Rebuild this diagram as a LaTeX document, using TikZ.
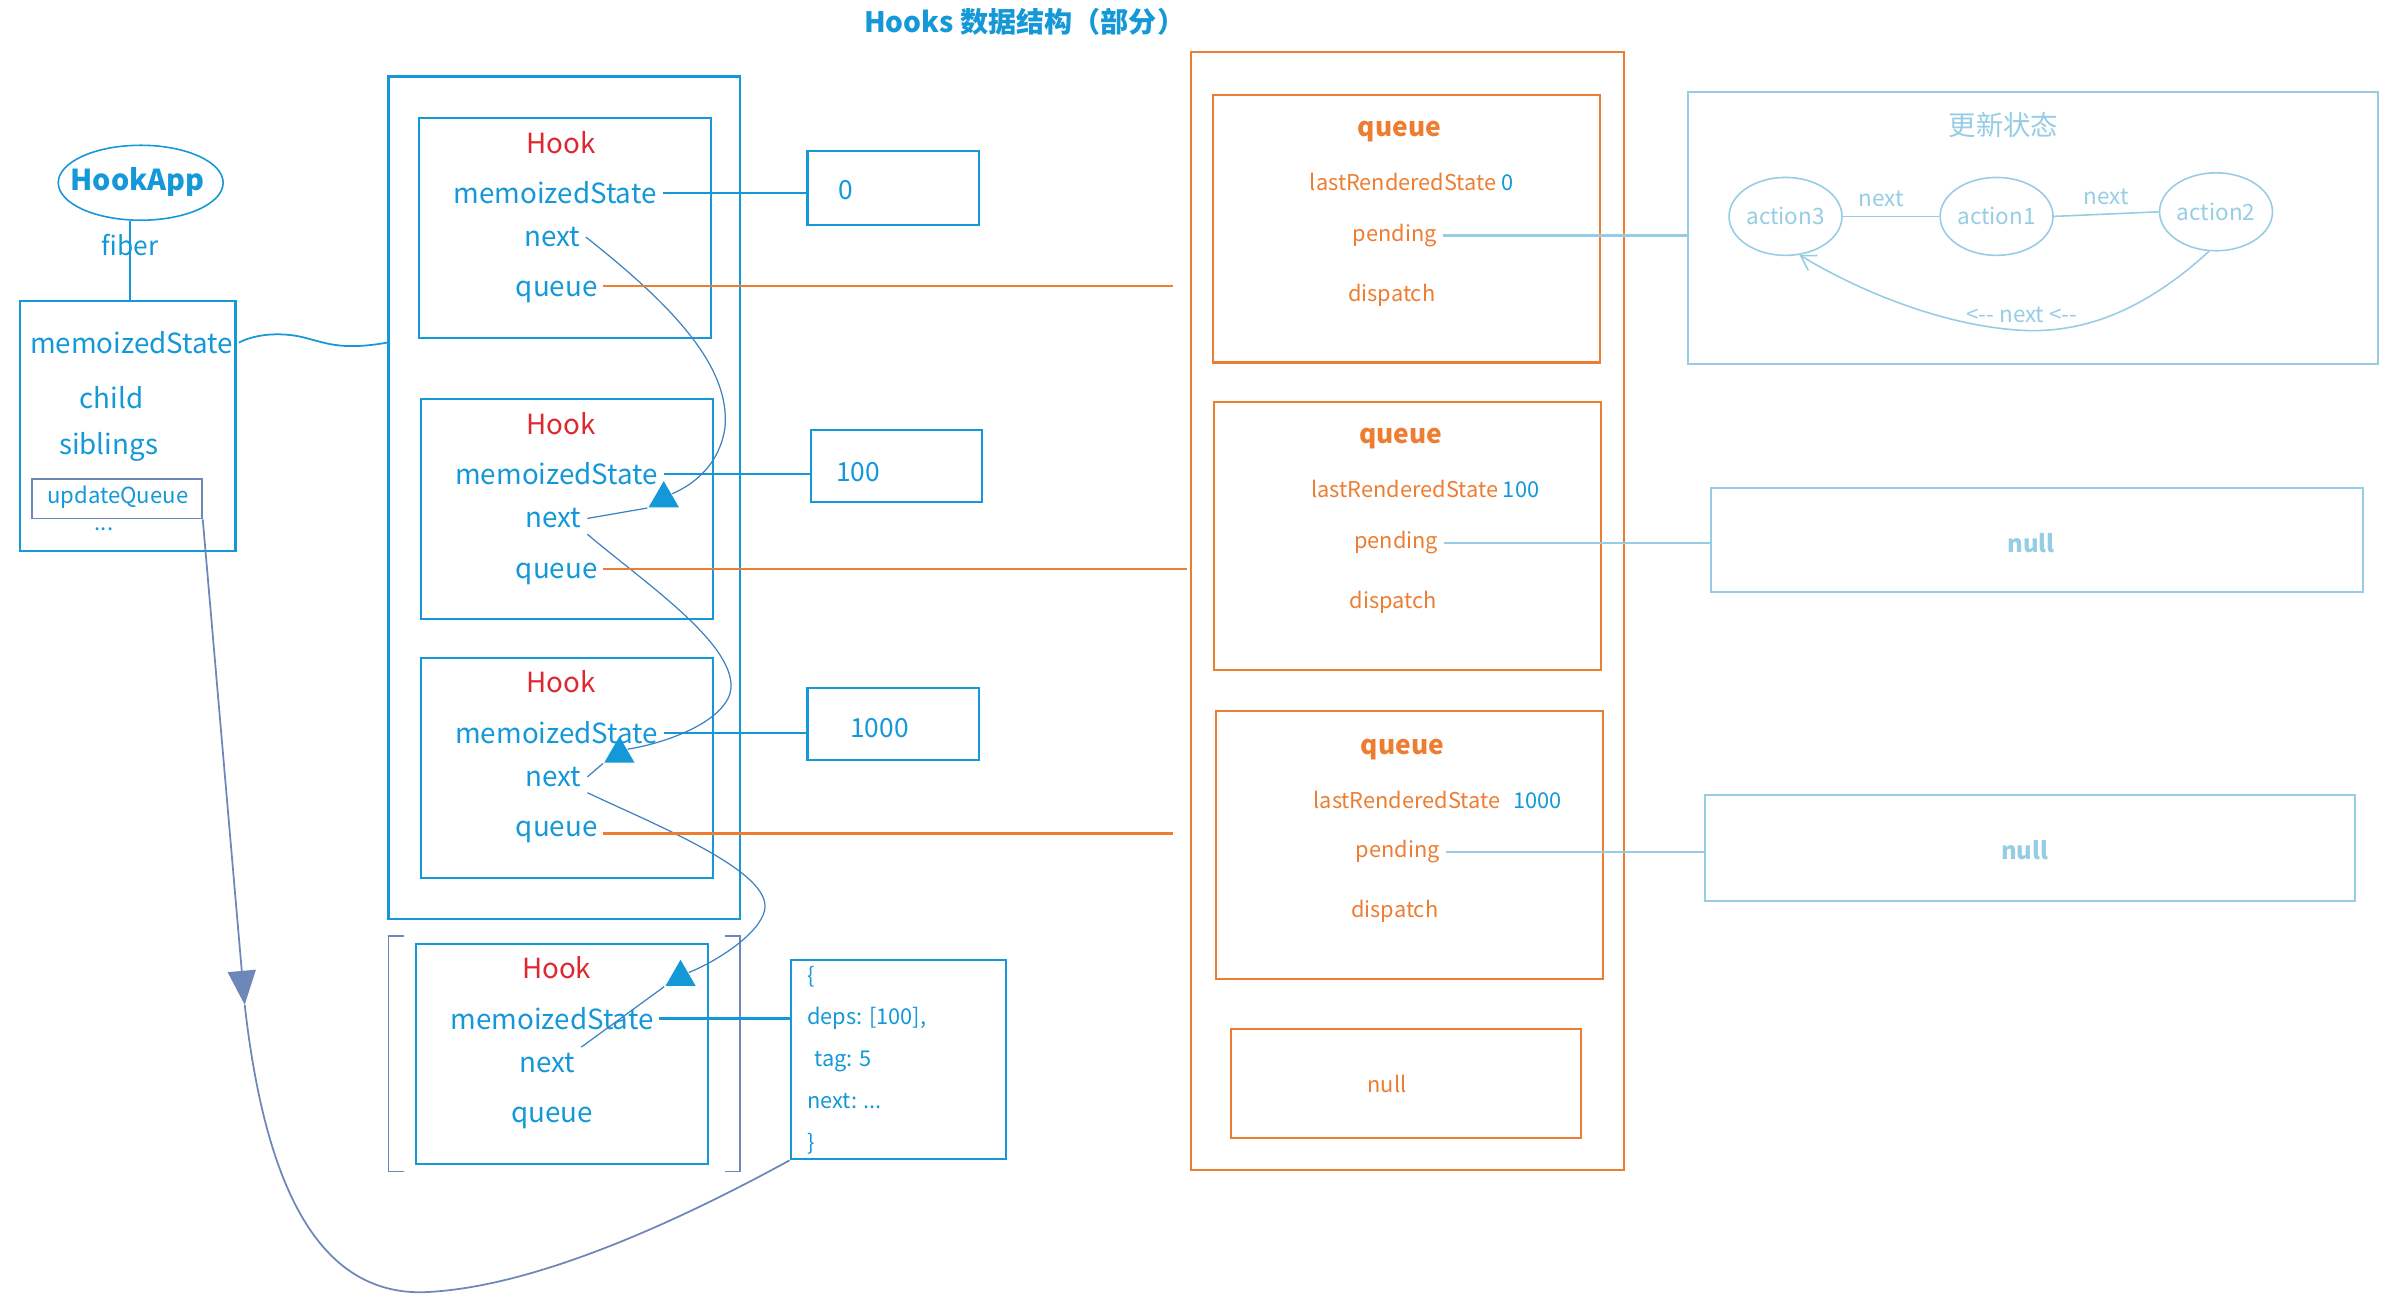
\documentclass[tikz,border=0pt]{standalone}
\usepackage{fontspec}
\setmainfont{Noto Sans CJK SC}
\usetikzlibrary{shapes.geometric,fit,arrows.meta}
\definecolor{hookblue}{RGB}{20,152,215}
\definecolor{hookred}{RGB}{222,40,48}
\definecolor{qorange}{RGB}{237,125,49}
\definecolor{lightblue}{RGB}{150,205,228}
\definecolor{greyblue}{RGB}{110,135,185}
\definecolor{nextblue}{RGB}{60,130,195}
\begin{document}
\begin{tikzpicture}[x=0.015306cm, y=-0.015306cm,
    box/.style={draw=hookblue, line width=0.6pt, inner sep=0pt},
    qbox/.style={draw=qorange, line width=0.6pt, inner sep=0pt},
    ubox/.style={draw=lightblue, line width=0.6pt, inner sep=0pt},
    fld/.style={text=hookblue, inner sep=1.5pt, font=\fontsize{7.9}{9.5}\selectfont},
    hname/.style={fld, text=hookred},
    small/.style={text=hookblue, inner sep=1.5pt, font=\fontsize{6.3}{7.6}\selectfont},
    qfld/.style={text=qorange, inner sep=1.5pt, font=\fontsize{6.2}{7.5}\selectfont},
    qhead/.style={text=qorange, inner sep=1.5pt, font=\fontsize{7.5}{9}\selectfont\bfseries},
    ufld/.style={text=lightblue, inner sep=1.5pt, font=\fontsize{6.4}{7.7}\selectfont},
    link/.style={draw=hookblue, line width=0.6pt},
    qlink/.style={draw=qorange, line width=0.6pt},
    ulink/.style={draw=lightblue, line width=0.6pt},
    nextln/.style={draw=nextblue, line width=0.35pt},
    tri/.style={regular polygon, regular polygon sides=3, fill=hookblue, minimum size=0.35cm, inner sep=0pt},
    act/.style={ellipse, draw=lightblue, line width=0.45pt, minimum width=1.13cm, minimum height=0.78cm, inner sep=0pt}]
  \useasboundingbox (0,0) rectangle (1568,855);

  \node[text=hookblue, font=\fontsize{8}{10}\selectfont\bfseries] (title) at (670,14) {Hooks 数据结构（部分）};

  % fiber
  \node[ellipse, draw=hookblue, line width=0.45pt, minimum width=1.65cm, minimum height=0.75cm, inner sep=0pt] (app) at (92,119.5) {};
  \node[text=hookblue, inner sep=0pt, font=\fontsize{8.2}{10}\selectfont\bfseries] (appt) at (90,119) {HookApp};
  \node[fld, font=\fontsize{7.5}{9}\selectfont] (fib) at (85,160) {fiber};
  \node[box, fit={(13,197) (154,360)}] (fbox) {};
  \node[fld] (fms) at (86,224) {memoizedState};
  \node[fld] (child) at (73,260) {child};
  \node[fld] (sib) at (71,292) {siblings};
  \node[draw=greyblue, line width=0.5pt, inner sep=0pt, fit={(21,313) (132,339)}] (uq) {};
  \node[small] (uqt) at (77,325) {updateQueue};
  \node[small, inner sep=0pt] (dots) at (68,346) {...};
  \draw[link] (app.south -| fib) -- (fbox.north -| fib);

  % hooks
  \node[box, fit={(254,50) (484,601)}] (hooks) {};
  \node[box, fit={(274,77) (465,221)}] (h1) {};
  \node[hname] (hk1) at (367,93) {Hook};
  \node[fld] (ms1) at (363,126) {memoizedState};
  \node[fld] (nx1) at (361,155) {next};
  \node[fld] (q1) at (364,191) {queue};
  \node[box, fit={(275,261) (466,405)}] (h2) {};
  \node[hname] (hk2) at (367,277) {Hook};
  \node[fld] (ms2) at (364,310) {memoizedState};
  \node[fld] (nx2) at (362,339) {next};
  \node[fld] (q2) at (364,375) {queue};
  \node[box, fit={(275,430) (466,574)}] (h3) {};
  \node[hname] (hk3) at (367,446) {Hook};
  \node[fld] (ms3) at (364,479) {memoizedState};
  \node[fld] (nx3) at (362,508) {next};
  \node[fld] (q3) at (364,544) {queue};
  \node[box, fit={(272,617) (463,761)}] (h4) {};
  \node[hname] (hk4) at (364,633) {Hook};
  \node[fld] (ms4) at (361,666) {memoizedState};
  \node[fld] (nx4) at (358,695) {next};
  \node[fld] (q4) at (361,731) {queue};
  \draw[greyblue, line width=0.5pt] (264,612) -- (254,612) -- (254,766) -- (264,766);
  \draw[greyblue, line width=0.5pt] (474,612) -- (484,612) -- (484,766) -- (474,766);

  % values
  \node[box, fit={(528,99) (640,147)}] (v0) {};
  \node[fld, font=\fontsize{7.5}{9}\selectfont] (v0t) at (553,124) {0};
  \node[box, fit={(530,281) (642,328)}] (v1) {};
  \node[fld, font=\fontsize{7.5}{9}\selectfont] (v1t) at (561,309) {100};
  \node[box, fit={(528,450) (640,497)}] (v2) {};
  \node[fld, font=\fontsize{7.5}{9}\selectfont] (v2t) at (575,476) {1000};
  \node[box, fit={(517,628) (658,758)}] (deps) {};
  \node[small, anchor=west, align=left, font=\fontsize{6.2}{11.9}\selectfont] (depst) at (524,693)
    {\{\\deps: [100],\\\hspace{2pt}tag: 5\\next: ...\\\}};

  \draw[link] (ms1.east) -- (ms1.east -| v0.west);
  \draw[link] (ms2.east) -- (ms2.east -| v1.west);
  \draw[link] (ms3.east) -- (ms3.east -| v2.west);
  \draw[link] (ms4.east) -- (ms4.east -| deps.west);
  \draw[link, line width=0.5pt] (fms.east) .. controls (168,218) and (185,217) .. (200,221)
    .. controls (215,225) and (225,229) .. (hooks.west |- fms.east);

  % next chain
  \node[tri] (tr2) at (434,326) {};
  \node[tri] (tr3) at (405,493) {};
  \node[tri] (tr4) at (445,639) {};
  \draw[nextln] (nx1.east) .. controls (440,200) and (478,240) .. (474,280)
    .. controls (471,300) and (458,315) .. (tr2.side 3);
  \draw[nextln] (nx2.east) -- (tr2.corner 2);
  \draw[nextln] (nx2.south east) .. controls (420,380) and (480,420) .. (478,450)
    .. controls (476,470) and (440,485) .. (tr3.side 3);
  \draw[nextln] (nx3.east) -- (tr3.corner 2);
  \draw[nextln] (nx3.south east) .. controls (430,540) and (505,570) .. (500,595)
    .. controls (497,610) and (470,628) .. (tr4.side 3);
  \draw[nextln] (tr4.corner 2) -- (nx4.north east);

  % updateQueue
  \coordinate (uqtip) at (160,657);
  \draw[greyblue, line width=0.5pt, -{Triangle[width=0.28cm,length=0.34cm]}] (uq.south east) -- (uqtip);
  \draw[greyblue, line width=0.5pt] (uqtip) .. controls (175,790) and (215,845) .. (275,845)
    .. controls (350,843) and (450,795) .. (deps.south west);

  % queues
  \node[qbox, fit={(779,34) (1062,765)}] (qcol) {};
  \node[qbox, fit={(793,62) (1046,237)}] (qb1) {};
  \node[qhead] (qh1) at (915,86) {queue};
  \node[qfld] (lrs1) at (923,119) {lastRenderedState \textcolor{hookblue}{0}};
  \node[qfld] (pd1) at (912,154) {pending};
  \node[qfld] (dp1) at (910,193) {dispatch};
  \node[qbox, fit={(794,263) (1047,438)}] (qb2) {};
  \node[qhead] (qh2) at (916,287) {queue};
  \node[qfld] (lrs2) at (932,320) {lastRenderedState \textcolor{hookblue}{100}};
  \node[qfld] (pd2) at (913,355) {pending};
  \node[qfld] (dp2) at (911,394) {dispatch};
  \node[qbox, fit={(795,465) (1048,640)}] (qb3) {};
  \node[qhead] (qh3) at (917,490) {queue};
  \node[qfld] (lrs3) at (940,523) {lastRenderedState\hspace{0.6em}\textcolor{hookblue}{1000}};
  \node[qfld] (pd3) at (914,557) {pending};
  \node[qfld] (dp3) at (912,596) {dispatch};
  \node[qbox, fit={(805,673) (1034,744)}] (qnull) {};
  \node[qfld] (qnt) at (907,709) {null};
  \coordinate (qe1) at (767,187);
  \coordinate (qe2) at (776,372);
  \coordinate (qe3) at (767,545);
  \draw[qlink] (q1.east |- qe1) -- (qe1);
  \draw[qlink] (q2.east |- qe2) -- (qe2);
  \draw[qlink] (q3.east |- qe3) -- (qe3);

  % pending
  \node[ubox, fit={(1104,60) (1555,238)}] (upd) {};
  \node[ufld, font=\fontsize{7.8}{10}\selectfont] (updt) at (1310,82) {更新状态};
  \node[act] (a3) at (1167.5,141.5) {};
  \node[ufld] (a3t) at (a3) {action3};
  \node[act] (a1) at (1305.5,141.5) {};
  \node[ufld] (a1t) at (a1) {action1};
  \node[act] (a2) at (1449,138.5) {};
  \node[ufld] (a2t) at (a2) {action2};
  \draw[ulink, line width=0.45pt] (a3.east) -- node[ufld, above=1pt, pos=0.4] (nt1) {next} (a1.west);
  \draw[ulink, line width=0.45pt] (a1.east) -- node[ufld, above=1pt] (nt2) {next} (a2.west);
  \draw[ulink, line width=0.45pt, -{Straight Barb[length=4pt,width=5pt]}] (a2.-100) .. controls (1400,205) and (1360,218) .. (1322,216)
    .. controls (1270,213) and (1215,190) .. (a3.-70);
  \node[ufld] (nt3) at (1322,206) {<{-}{-} next <{-}{-}};
  \node[ubox, fit={(1119,319) (1545,387)}] (n1) {};
  \node[ufld, font=\fontsize{6.8}{8}\selectfont\bfseries] (n1t) at (1328,355) {null};
  \node[ubox, fit={(1115,520) (1540,589)}] (n2) {};
  \node[ufld, font=\fontsize{6.8}{8}\selectfont\bfseries] (n2t) at (1324,556) {null};
  \draw[ulink] (pd1.east) -- (pd1.east -| upd.west);
  \draw[ulink] (pd2.east) -- (pd2.east -| n1.west);
  \draw[ulink] (pd3.east) -- (pd3.east -| n2.west);
\end{tikzpicture}
\end{document}
